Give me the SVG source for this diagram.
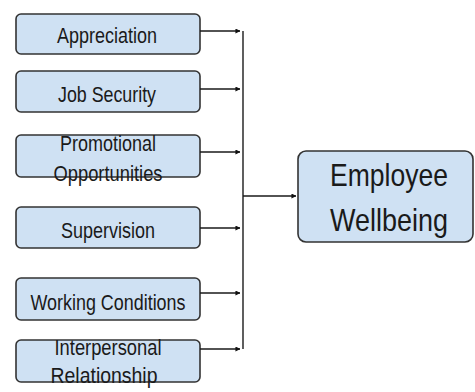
<svg xmlns="http://www.w3.org/2000/svg" width="475" height="392" viewBox="0 0 475 392">
  <style>
    .box { fill: #cfe1f3; stroke: #333333; stroke-width: 1.6; }
    .lbl { font-family: "Liberation Sans", Arial, sans-serif; font-size: 22px; fill: #1a1a1a; text-anchor: middle; }
    .big { font-family: "Liberation Sans", Arial, sans-serif; font-size: 32px; fill: #1a1a1a; text-anchor: middle; }
    .wire { fill: none; stroke: #1a1a1a; stroke-width: 1.4; }
  </style>
  <defs>
    <marker id="tip" viewBox="0 0 6 6" refX="5.5" refY="3" markerWidth="5" markerHeight="5" markerUnits="userSpaceOnUse" orient="auto">
      <path d="M0,0 L6,3 L0,6 Z" fill="#111"/>
    </marker>
  </defs>
  <rect width="475" height="392" fill="#ffffff"/>

  <g id="appreciation">
    <rect class="box" x="16" y="14" width="184" height="40" rx="5"/>
    <text class="lbl" x="107" y="43" textLength="100" lengthAdjust="spacingAndGlyphs">Appreciation</text>
  </g>
  <g id="job-security">
    <rect class="box" x="16" y="71" width="184" height="41" rx="5"/>
    <text class="lbl" x="107" y="102" textLength="98" lengthAdjust="spacingAndGlyphs">Job Security</text>
  </g>
  <g id="promotional-opportunities">
    <rect class="box" x="16" y="135" width="184" height="42" rx="5"/>
    <text class="lbl" x="108" y="151" textLength="96" lengthAdjust="spacingAndGlyphs">Promotional</text>
    <text class="lbl" x="108" y="181" textLength="109" lengthAdjust="spacingAndGlyphs">Opportunities</text>
  </g>
  <g id="supervision">
    <rect class="box" x="16" y="207" width="184" height="41" rx="5"/>
    <text class="lbl" x="108" y="238" textLength="94" lengthAdjust="spacingAndGlyphs">Supervision</text>
  </g>
  <g id="working-conditions">
    <rect class="box" x="16" y="278" width="184" height="42" rx="5"/>
    <text class="lbl" x="108" y="310" textLength="155" lengthAdjust="spacingAndGlyphs">Working Conditions</text>
  </g>
  <g id="interpersonal-relationship">
    <rect class="box" x="16" y="340" width="184" height="42" rx="5"/>
    <text class="lbl" x="108" y="355" textLength="107" lengthAdjust="spacingAndGlyphs">Interpersonal</text>
    <text class="lbl" x="104" y="383" textLength="107" lengthAdjust="spacingAndGlyphs">Relationship</text>
  </g>
  <g id="employee-wellbeing">
    <rect class="box" x="298" y="151" width="175" height="91" rx="8"/>
    <text class="big" x="389" y="186" textLength="118" lengthAdjust="spacingAndGlyphs">Employee</text>
    <text class="big" x="389" y="231" textLength="118" lengthAdjust="spacingAndGlyphs">Wellbeing</text>
  </g>

  <g id="connectors">
    <line class="wire" x1="200" y1="31" x2="240" y2="31" marker-end="url(#tip)"/>
    <line class="wire" x1="200" y1="89" x2="240" y2="89" marker-end="url(#tip)"/>
    <line class="wire" x1="200" y1="152" x2="240" y2="152" marker-end="url(#tip)"/>
    <line class="wire" x1="200" y1="228" x2="240" y2="228" marker-end="url(#tip)"/>
    <line class="wire" x1="200" y1="293" x2="240" y2="293" marker-end="url(#tip)"/>
    <line class="wire" x1="200" y1="349" x2="240" y2="349" marker-end="url(#tip)"/>
    <line class="wire" x1="243" y1="31" x2="243" y2="349"/>
    <line class="wire" x1="243" y1="196" x2="296" y2="196" marker-end="url(#tip)"/>
  </g>
</svg>
